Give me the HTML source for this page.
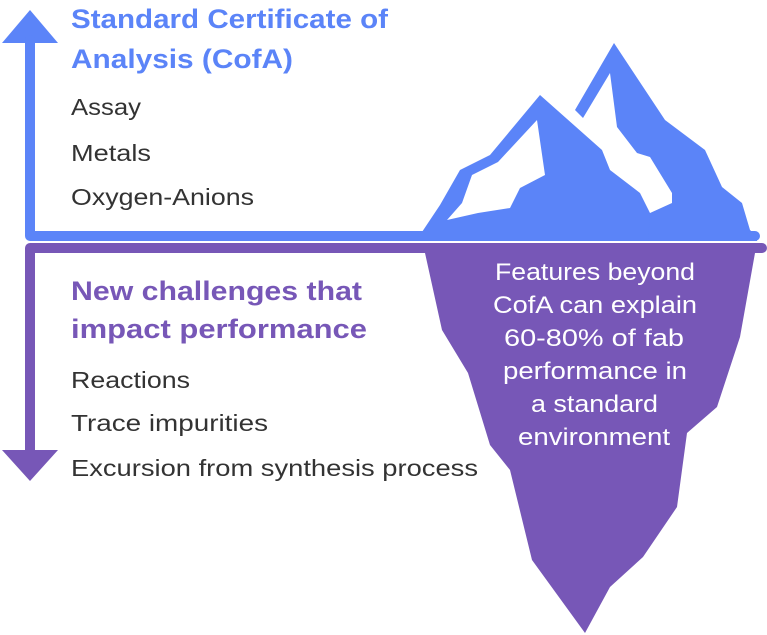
<!DOCTYPE html>
<html><head><style>
body{margin:0;background:#fff;width:767px;height:635px;overflow:hidden}
svg{display:block}
.t{font-family:"Liberation Sans",sans-serif}
</style></head><body>
<svg width="767" height="635" viewBox="0 0 767 635" xmlns="http://www.w3.org/2000/svg">
<polygon points="30,10 58,43 2,43" fill="#5b84f8"/>
<path d="M30,40 V236 H755" stroke="#5b84f8" stroke-width="10" fill="none" stroke-linejoin="round" stroke-linecap="round"/>
<path d="M762,248 H30 V452" stroke="#7757b7" stroke-width="10" fill="none" stroke-linejoin="round" stroke-linecap="round"/>
<polygon points="2,450 58,450 30,481" fill="#7757b7"/>
<polygon fill="#5b84f8" points="422,232 440,205 460,170 490,155 540,95 602,150 610,170 640,193 650,213 650,240 422,240"/>
<polygon fill="#5b84f8" points="575,110 614,43 665,120 705,150 722,187 742,203 750,230 757,236 757,241 648,241 650,213 672,203 672,193 650,157 637,153 617,127 610,73 583,118"/>
<polygon fill="#fff" points="537,120 545,175 520,188 510,208 478,213 447,220 462,203 472,175 498,162"/>
<polygon fill="#7757b7" points="425,253 755,253 740,337 717,407 687,433 677,507 643,557 610,587 585,633 532,560 510,470 490,445 468,373 442,330"/>
<g class="t" font-size="24" fill="#fff" lengthAdjust="spacingAndGlyphs">
<text x="495" y="280" textLength="200" lengthAdjust="spacingAndGlyphs">Features beyond</text>
<text x="493" y="313" textLength="204" lengthAdjust="spacingAndGlyphs">CofA can explain</text>
<text x="504" y="346" textLength="180" lengthAdjust="spacingAndGlyphs">60-80% of fab</text>
<text x="503" y="379" textLength="184" lengthAdjust="spacingAndGlyphs">performance in</text>
<text x="531" y="412" textLength="127" lengthAdjust="spacingAndGlyphs">a standard</text>
<text x="518" y="445" textLength="152" lengthAdjust="spacingAndGlyphs">environment</text>
</g>
<g class="t" font-size="27" font-weight="bold" fill="#5b84f8">
<text x="71" y="28" textLength="317" lengthAdjust="spacingAndGlyphs">Standard Certificate of</text>
<text x="71" y="68" textLength="222" lengthAdjust="spacingAndGlyphs">Analysis (CofA)</text>
</g>
<g class="t" font-size="27" font-weight="bold" fill="#7757b7">
<text x="71" y="300" textLength="291" lengthAdjust="spacingAndGlyphs">New challenges that</text>
<text x="71" y="338" textLength="296" lengthAdjust="spacingAndGlyphs">impact performance</text>
</g>
<g class="t" font-size="23" fill="#333">
<text x="71" y="115" textLength="70" lengthAdjust="spacingAndGlyphs">Assay</text>
<text x="71" y="161" textLength="80" lengthAdjust="spacingAndGlyphs">Metals</text>
<text x="71" y="205" textLength="183" lengthAdjust="spacingAndGlyphs">Oxygen-Anions</text>
<text x="71" y="388" textLength="119" lengthAdjust="spacingAndGlyphs">Reactions</text>
<text x="71" y="431" textLength="197" lengthAdjust="spacingAndGlyphs">Trace impurities</text>
<text x="71" y="476" textLength="407" lengthAdjust="spacingAndGlyphs">Excursion from synthesis process</text>
</g>
</svg>
</body></html>
